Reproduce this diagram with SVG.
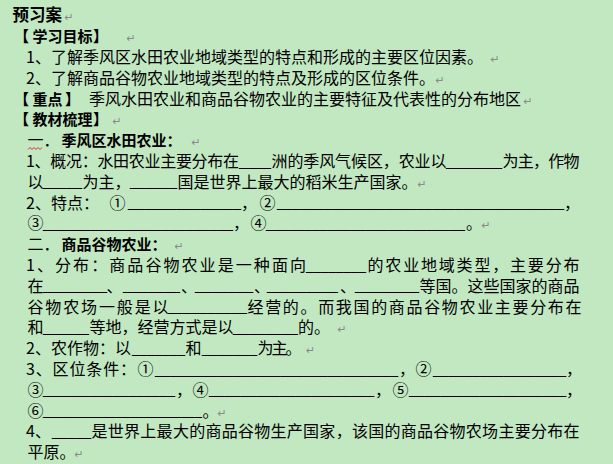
<svg xmlns="http://www.w3.org/2000/svg" width="613" height="464" viewBox="0 0 613 464">
<style>
text{font-family:"Noto Sans CJK SC","Noto Sans CJK TC",sans-serif;fill:#000;}
.t{font-size:16px;}
.b{font-size:15px;font-weight:bold;}
.h{font-size:16.5px;font-weight:bold;}
.u{font-family:"Liberation Sans",Arial,sans-serif;font-size:14px;}
.p{font-family:"DejaVu Sans",sans-serif;font-size:11px;fill:#8a8a8a;}
</style>
<rect width="613" height="464" fill="#c2e8c2"/>
<g id="row0"><text class="h" x="12.5" y="21.4">预习案</text><text class="p" x="64.5" y="21.4">↵</text></g>
<g id="row1"><text class="b" y="42.2"><tspan x="14">【</tspan><tspan x="32.5">学习目标</tspan><tspan x="93">】</tspan></text><text class="p" x="126.5" y="42.2">↵</text></g>
<g id="row2"><text class="t" x="26" y="63">1、了解季风区水田农业地域类型的特点和形成的主要区位因素。</text><text class="p" x="490.5" y="63">↵</text></g>
<g id="row3"><text class="t" x="26" y="83.8">2、了解商品谷物农业地域类型的特点及形成的区位条件。</text><text class="p" x="435.5" y="83.8">↵</text></g>
<g id="row4"><text class="b" y="104.6"><tspan x="14">【</tspan><tspan x="32.5">重点</tspan><tspan x="65">】</tspan></text><text class="t" x="89" y="104.6">季风水田农业和商品谷物农业的主要特征及代表性的分布地区</text><text class="p" x="523.5" y="104.6">↵</text></g>
<g id="row5"><text class="b" y="125.4"><tspan x="14">【</tspan><tspan x="32.5">教材梳理</tspan><tspan x="93">】</tspan></text><text class="p" x="112.5" y="125.4">↵</text></g>
<g id="row6"><text class="t" x="27.5" y="146.2">一．</text><text class="b" x="61.5" y="146.2">季风区水田农业：</text><text class="p" x="191.5" y="146.2">↵</text><polyline points="28,149.5 30,147.5 32,149.5 34,147.5 36,149.5 38,147.5 40,149.5 42,147.5" fill="none" stroke="#e00000" stroke-width="0.8"/></g>
<g id="row7"><text class="t" x="26" y="167" textLength="213" lengthAdjust="spacing">1、概况：水田农业主要分布在</text><text class="u" x="239" y="165.5" textLength="32" lengthAdjust="spacingAndGlyphs">____</text><text class="t" x="271.5" y="167" textLength="175" lengthAdjust="spacing">洲的季风气候区，农业以</text><text class="u" x="446" y="165.5" textLength="56" lengthAdjust="spacingAndGlyphs">_______</text><text class="t" x="502.5" y="167" textLength="77" lengthAdjust="spacing">为主，作物</text></g>
<g id="row8"><text class="t" x="27.5" y="187.8">以</text><text class="u" x="43" y="186.3" textLength="39" lengthAdjust="spacingAndGlyphs">_____</text><text class="t" x="82.5" y="187.8">为主，</text><text class="u" x="130" y="186.3" textLength="47" lengthAdjust="spacingAndGlyphs">______</text><text class="t" x="177.5" y="187.8">国是世界上最大的稻米生产国家。</text><text class="p" x="417.5" y="187.8">↵</text></g>
<g id="row9"><text class="t" x="26" y="208.6">2、特点：</text><text class="t" x="109.5" y="208.6">①</text><text class="u" x="128" y="207.1" textLength="113" lengthAdjust="spacingAndGlyphs">______________</text><text class="t" x="241" y="208.6">，</text><text class="t" x="259.5" y="208.6">②</text><text class="u" x="277" y="207.1" textLength="287" lengthAdjust="spacingAndGlyphs">_____________________________________</text><text class="t" x="564" y="208.6">，</text></g>
<g id="row10"><text class="t" x="27.5" y="229.4">③</text><text class="u" x="43" y="227.9" textLength="190" lengthAdjust="spacingAndGlyphs">________________________</text><text class="t" x="233" y="229.4">，</text><text class="t" x="250.5" y="229.4">④</text><text class="u" x="266" y="227.9" textLength="199" lengthAdjust="spacingAndGlyphs">__________________________</text><text class="t" x="466" y="229.4">。</text><text class="p" x="481.5" y="229.4">↵</text></g>
<g id="row11"><text class="t" x="27.5" y="250.2">二．</text><text class="b" x="61.5" y="250.2">商品谷物农业：</text><text class="p" x="174.5" y="250.2">↵</text></g>
<g id="row12"><text class="t" x="26" y="271" textLength="280" lengthAdjust="spacing">1、分布：商品谷物农业是一种面向</text><text class="u" x="306" y="269.5" textLength="60" lengthAdjust="spacingAndGlyphs">________</text><text class="t" x="367.5" y="271" textLength="212" lengthAdjust="spacing">的农业地域类型，主要分布</text></g>
<g id="row13"><text class="t" x="27.5" y="291.8">在</text><text class="u" x="43" y="290.3" textLength="64" lengthAdjust="spacingAndGlyphs">________</text><text class="t" x="106.5" y="291.8">、</text><text class="u" x="123" y="290.3" textLength="57" lengthAdjust="spacingAndGlyphs">_______</text><text class="t" x="181" y="291.8">、</text><text class="u" x="195" y="290.3" textLength="58" lengthAdjust="spacingAndGlyphs">_______</text><text class="t" x="254" y="291.8">、</text><text class="u" x="267" y="290.3" textLength="71" lengthAdjust="spacingAndGlyphs">_________</text><text class="t" x="340" y="291.8">、</text><text class="u" x="355" y="290.3" textLength="64" lengthAdjust="spacingAndGlyphs">________</text><text class="t" x="419.5" y="291.8">等国。这些国家的商品</text></g>
<g id="row14"><text class="t" x="27.5" y="312.6" textLength="141" lengthAdjust="spacing">谷物农场一般是以</text><text class="u" x="168" y="311.1" textLength="79" lengthAdjust="spacingAndGlyphs">__________</text><text class="t" x="247.5" y="312.6" textLength="334" lengthAdjust="spacing">经营的。而我国的商品谷物农业主要分布在</text></g>
<g id="row15"><text class="t" x="27.5" y="333.4">和</text><text class="u" x="43" y="331.9" textLength="46" lengthAdjust="spacingAndGlyphs">______</text><text class="t" x="89.5" y="333.4">等地，经营方式是以</text><text class="u" x="233" y="331.9" textLength="65" lengthAdjust="spacingAndGlyphs">________</text><text class="t" x="298" y="333.4">的。</text><text class="p" x="337.5" y="333.4">↵</text></g>
<g id="row16"><text class="t" x="26" y="354.2">2、农作物：以</text><text class="u" x="132" y="352.7" textLength="53" lengthAdjust="spacingAndGlyphs">_______</text><text class="t" x="185.5" y="354.2">和</text><text class="u" x="202" y="352.7" textLength="55" lengthAdjust="spacingAndGlyphs">_______</text><text class="t" x="257.5" y="354.2" textLength="44" lengthAdjust="spacing">为主。</text><text class="p" x="306" y="354.2">↵</text></g>
<g id="row17"><text class="t" x="26" y="375" textLength="110" lengthAdjust="spacing">3、区位条件：</text><text class="t" x="137.5" y="375">①</text><text class="u" x="155" y="373.5" textLength="243" lengthAdjust="spacingAndGlyphs">_______________________________</text><text class="t" x="399" y="375">，</text><text class="t" x="415.5" y="375">②</text><text class="u" x="433" y="373.5" textLength="133" lengthAdjust="spacingAndGlyphs">_________________</text><text class="t" x="566" y="375">，</text></g>
<g id="row18"><text class="t" x="27.5" y="395.8">③</text><text class="u" x="43" y="394.3" textLength="132" lengthAdjust="spacingAndGlyphs">_________________</text><text class="t" x="176" y="395.8">，</text><text class="t" x="192.5" y="395.8">④</text><text class="u" x="209" y="394.3" textLength="165" lengthAdjust="spacingAndGlyphs">_____________________</text><text class="t" x="375" y="395.8">，</text><text class="t" x="392.5" y="395.8">⑤</text><text class="u" x="409" y="394.3" textLength="157" lengthAdjust="spacingAndGlyphs">____________________</text><text class="t" x="566" y="395.8">，</text></g>
<g id="row19"><text class="t" x="27.5" y="416.6">⑥</text><text class="u" x="43" y="415.1" textLength="159" lengthAdjust="spacingAndGlyphs">____________________</text><text class="t" x="202.5" y="416.6">。</text><text class="p" x="217.5" y="416.6">↵</text></g>
<g id="row20"><text class="t" x="26" y="437.4">4、</text><text class="u" x="52" y="435.9" textLength="39" lengthAdjust="spacingAndGlyphs">_____</text><text class="t" x="91.5" y="437.4" textLength="488" lengthAdjust="spacing">是世界上最大的商品谷物生产国家，该国的商品谷物农场主要分布在</text></g>
<g id="row21"><text class="t" x="27.5" y="458.2">平原。</text><text class="p" x="74.5" y="458.2">↵</text></g>
</svg>
